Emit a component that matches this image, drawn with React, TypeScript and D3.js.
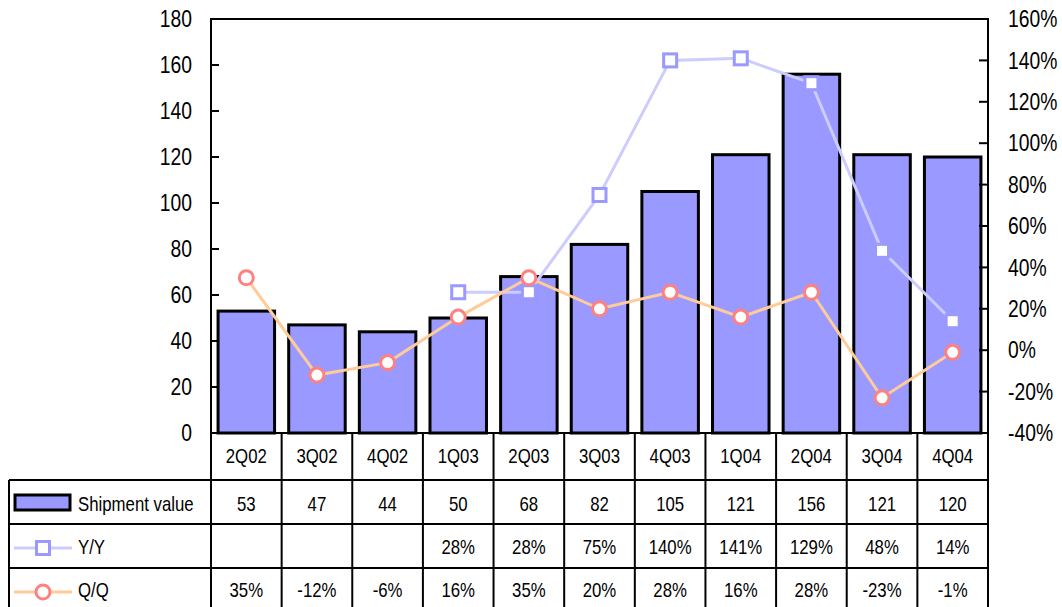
import React from "react";
import * as d3 from "d3";

const quarters = ["2Q02", "3Q02", "4Q02", "1Q03", "2Q03", "3Q03", "4Q03", "1Q04", "2Q04", "3Q04", "4Q04"];
const shipmentValue = [53, 47, 44, 50, 68, 82, 105, 121, 156, 121, 120];
const yoy: (number | null)[] = [null, null, null, 28, 28, 75, 140, 141, 129, 48, 14];
const qoq = [35, -12, -6, 16, 35, 20, 28, 16, 28, -23, -1];
const leftTicks = [0, 20, 40, 60, 80, 100, 120, 140, 160, 180];
const rightTicks = [-40, -20, 0, 20, 40, 60, 80, 100, 120, 140, 160];

const W = 1062;
const H = 607;
const plot = { left: 211, right: 988, top: 19, bottom: 433 };
const tableLeft = 9;
const rowLines = [480, 524, 568];
const rowCenters = [456, 503.5, 547, 590];
const FONT = "'Liberation Sans', Arial, sans-serif";
const NARROW = 0.84;

const BAR_FILL = "#9999ff";
const YOY_LINE = "#ccccff";
const YOY_MARK = "#9999ff";
const QOQ_LINE = "#ffcc99";
const QOQ_MARK = "#ff8080";

// Condensed text: glyphs squeezed horizontally around their anchor point.
function NText({ x, y, size, anchor = "start", children }: { x: number; y: number; size: number; anchor?: "start" | "middle" | "end"; children: React.ReactNode }) {
  return (
    <g transform={`translate(${x},${y}) scale(${NARROW},1)`}>
      <text x={0} y={0} dy="0.36em" fontSize={size} textAnchor={anchor} fill="#000">
        {children}
      </text>
    </g>
  );
}

export default function App() {
  const x = d3.scaleBand<string>().domain(quarters).range([plot.left, plot.right]).paddingInner(0.2).paddingOuter(0.1);
  const xCol = d3.scaleBand<string>().domain(quarters).range([plot.left, plot.right]);
  const yL = d3.scaleLinear().domain([0, 180]).range([plot.bottom, plot.top]);
  const yR = d3.scaleLinear().domain([-40, 160]).range([plot.bottom, plot.top]);
  const cx = (q: string) => (xCol(q) as number) + xCol.bandwidth() / 2;

  const yoyLine = d3
    .line<number | null>()
    .defined((d) => d !== null)
    .x((_, i) => cx(quarters[i]))
    .y((d) => yR(d as number));
  const qoqLine = d3
    .line<number>()
    .x((_, i) => cx(quarters[i]))
    .y((d) => yR(d));

  const fmtPct = (v: number | null) => (v === null ? "" : `${v}%`);

  return (
    <svg width={W} height={H} style={{ position: "absolute", left: 0, top: 0, background: "#fff" }} fontFamily={FONT}>
      {/* bars */}
      {shipmentValue.map((v, i) => (
        <rect
          key={quarters[i]}
          x={x(quarters[i]) as number}
          y={yL(v)}
          width={x.bandwidth()}
          height={plot.bottom - yL(v)}
          fill={BAR_FILL}
          stroke="#000"
          strokeWidth={3}
        />
      ))}

      {/* plot frame */}
      <rect x={plot.left} y={plot.top} width={plot.right - plot.left} height={plot.bottom - plot.top} fill="none" stroke="#000" strokeWidth={2} />

      {/* left axis */}
      {leftTicks.map((t) => (
        <g key={`l${t}`}>
          <line x1={plot.left} x2={plot.left + 8} y1={yL(t)} y2={yL(t)} stroke="#000" strokeWidth={2} />
          <NText x={192} y={yL(t)} size={23} anchor="end">{t}</NText>
        </g>
      ))}

      {/* right axis */}
      {rightTicks.map((t) => (
        <g key={`r${t}`}>
          <line x1={plot.right - 9} x2={plot.right} y1={yR(t)} y2={yR(t)} stroke="#000" strokeWidth={2} />
          <NText x={1008} y={yR(t)} size={23}>{`${t}%`}</NText>
        </g>
      ))}

      {/* Y/Y series */}
      <path d={yoyLine(yoy) || ""} fill="none" stroke={YOY_LINE} strokeWidth={3} />
      {yoy.map((v, i) =>
        v === null ? null : (
          <rect key={`yy${i}`} x={cx(quarters[i]) - 6.5} y={yR(v) - 6.5} width={13} height={13} fill="#fff" stroke={YOY_MARK} strokeWidth={3} />
        )
      )}

      {/* Q/Q series */}
      <path d={qoqLine(qoq) || ""} fill="none" stroke={QOQ_LINE} strokeWidth={3} />
      {qoq.map((v, i) => (
        <circle key={`qq${i}`} cx={cx(quarters[i])} cy={yR(v)} r={7} fill="#fff" stroke={QOQ_MARK} strokeWidth={3} />
      ))}

      {/* data table grid */}
      {quarters.map((q) => (
        <line key={`v${q}`} x1={(xCol(q) as number) + xCol.bandwidth()} x2={(xCol(q) as number) + xCol.bandwidth()} y1={plot.bottom} y2={H} stroke="#000" strokeWidth={2} />
      ))}
      <line x1={plot.left} x2={plot.left} y1={plot.bottom} y2={H} stroke="#000" strokeWidth={2} />
      <line x1={tableLeft} x2={tableLeft} y1={rowLines[0]} y2={H} stroke="#000" strokeWidth={2} />
      {rowLines.map((y) => (
        <line key={`h${y}`} x1={tableLeft} x2={plot.right} y1={y} y2={y} stroke="#000" strokeWidth={2} />
      ))}

      {/* table contents */}
      {quarters.map((q, i) => (
        <g key={`t${q}`}>
          <NText x={cx(q)} y={rowCenters[0]} size={20} anchor="middle">{q}</NText>
          <NText x={cx(q)} y={rowCenters[1]} size={20} anchor="middle">{shipmentValue[i]}</NText>
          <NText x={cx(q)} y={rowCenters[2]} size={20} anchor="middle">{fmtPct(yoy[i])}</NText>
          <NText x={cx(q)} y={rowCenters[3]} size={20} anchor="middle">{fmtPct(qoq[i])}</NText>
        </g>
      ))}

      {/* legend keys */}
      <rect x={15} y={495} width={55} height={15} fill={BAR_FILL} stroke="#000" strokeWidth={3} />
      <NText x={78} y={rowCenters[1]} size={20}>Shipment value</NText>

      <line x1={14} x2={72} y1={548} y2={548} stroke={YOY_LINE} strokeWidth={3} />
      <rect x={36.5} y={541.5} width={13} height={13} fill="#fff" stroke={YOY_MARK} strokeWidth={3} />
      <NText x={78} y={rowCenters[2]} size={20}>Y/Y</NText>

      <line x1={14} x2={72} y1={592} y2={592} stroke={QOQ_LINE} strokeWidth={3} />
      <circle cx={43} cy={592} r={7} fill="#fff" stroke={QOQ_MARK} strokeWidth={3} />
      <NText x={78} y={rowCenters[3]} size={20}>Q/Q</NText>
    </svg>
  );
}
